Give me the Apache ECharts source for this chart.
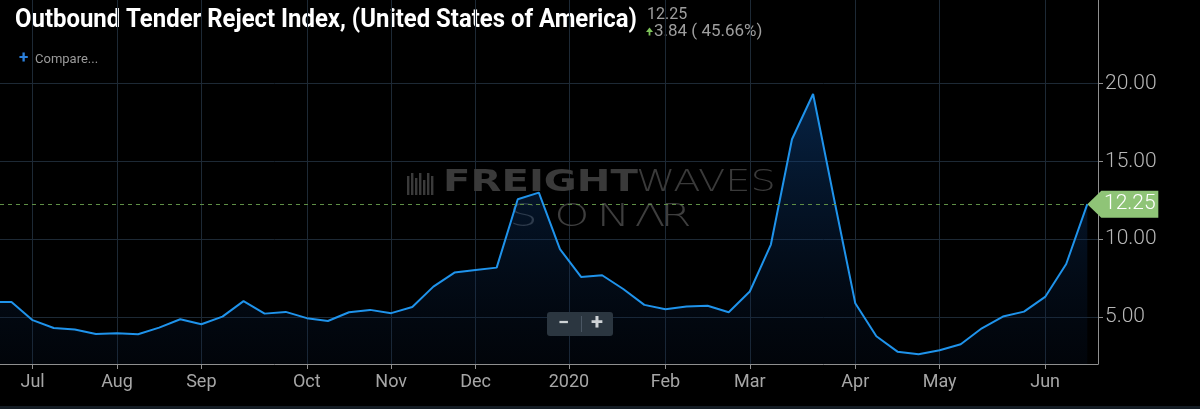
<!DOCTYPE html>
<html><head><meta charset="utf-8">
<script src="https://cdn.jsdelivr.net/npm/echarts@6/dist/echarts.min.js"></script>
<style>html,body{margin:0;padding:0;background:#000;}#c{width:1200px;height:409px;}</style>
</head><body><div id="c"></div>
<script>
const weekDates = [
  '2019-06-23','2019-06-30','2019-07-07','2019-07-14','2019-07-21','2019-07-28',
  '2019-08-04','2019-08-11','2019-08-18','2019-08-25','2019-09-01','2019-09-08',
  '2019-09-15','2019-09-22','2019-09-29','2019-10-06','2019-10-13','2019-10-20',
  '2019-10-27','2019-11-03','2019-11-10','2019-11-17','2019-11-24','2019-12-01',
  '2019-12-08','2019-12-15','2019-12-22','2019-12-29','2020-01-05','2020-01-12',
  '2020-01-19','2020-01-26','2020-02-02','2020-02-09','2020-02-16','2020-02-23',
  '2020-03-01','2020-03-08','2020-03-15','2020-03-22','2020-03-29','2020-04-05',
  '2020-04-12','2020-04-19','2020-04-26','2020-05-03','2020-05-10','2020-05-17',
  '2020-05-24','2020-05-31','2020-06-07','2020-06-14','2020-06-21'
];
const rejectIndex = [
  5.98, 5.98, 4.81, 4.31, 4.21, 3.93,
  3.97, 3.91, 4.33, 4.87, 4.55, 5.04,
  6.03, 5.23, 5.34, 4.94, 4.76, 5.32,
  5.47, 5.26, 5.66, 6.96, 7.86, 8.03,
  8.18, 12.56, 12.99, 9.36, 7.58, 7.69,
  6.81, 5.79, 5.51, 5.68, 5.74, 5.32,
  6.65, 9.66, 16.41, 19.31, 12.55, 5.90,
  3.78, 2.79, 2.63, 2.88, 3.27, 4.29,
  5.04, 5.36, 6.30, 8.41, 12.25
];
const xTickDates = ['2019-07-07','2019-08-04','2019-09-01','2019-10-06','2019-11-03','2019-12-01',
  '2020-01-01','2020-02-02','2020-03-01','2020-04-05','2020-05-03','2020-06-07'];
const xTickLabels = ['Jul','Aug','Sep','Oct','Nov','Dec','2020','Feb','Mar','Apr','May','Jun'];
const yTickValues = [5, 10, 15, 20];
const titleText = 'Outbound Tender Reject Index, (United States of America)';

const DAY = 86400000;
const toTs = d => Date.parse(d + 'T00:00:00Z');
const seriesData = weekDates.map((d, i) => [toTs(d), rejectIndex[i]]);
const xTickTs = xTickDates.map(toTs);
const xMin = toTs('2019-06-23') + 3.185 * DAY;
const xMax = toTs('2020-06-21') + 3.55 * DAY;
const lastValue = rejectIndex[rejectIndex.length - 1];
const prevValue = rejectIndex[rejectIndex.length - 2];
const change = lastValue - prevValue;
const pct = change / prevValue * 100;

// fit the title into the width it takes in the reference (condensed look)
const titleFont = 'bold 25px Roboto';
const mctx = document.createElement('canvas').getContext('2d');
mctx.font = titleFont;
const titleScale = 622 / mctx.measureText(titleText).width;

const wmColor = '#3a3a3a';
const wmGraphics = [];
[[407,176,195],[411,173,195],[415,178,195],[419,173,195],[423,180,195],[427,173,195],[431,176,195]].forEach(b => {
  wmGraphics.push({type:'rect', z: 1, silent: true, shape:{x:b[0], y:b[1], width:2.4, height:b[2]-b[1]}, style:{fill: wmColor}});
});
wmGraphics.push({type:'text', z:1, silent:true, x:443, y:183, scaleX:1.34,
  style:{text:'FREIGHT', font:'bold 30px "DejaVu Sans"', fill: wmColor, verticalAlign:'middle', align:'left'}});
wmGraphics.push({type:'text', z:1, silent:true, x:636, y:183, scaleX:1.33,
  style:{text:'WAVES', font:'200 30px "DejaVu Sans"', fill: wmColor, verticalAlign:'middle', align:'left'}});
[['S',523.5],['O',572],['N',613.5],['Λ',650],['R',676]].forEach(l => {
  wmGraphics.push({type:'text', z:1, silent:true, x:l[1], y:218, scaleX:1.4,
    style:{text:l[0], font:'200 32px "DejaVu Sans"', fill: '#3e3e3e', verticalAlign:'middle', align:'center'}});
});

const chart = echarts.init(document.getElementById('c'), null, {renderer:'canvas'});
chart.setOption({
  backgroundColor: '#000000',
  animation: false,
  grid: {left: 0, right: 102, top: 0, bottom: 45},
  xAxis: {
    type: 'value', min: xMin, max: xMax,
    axisLine: {show: true, onZero: false, lineStyle: {color: '#8f8f8f', width: 1}},
    axisTick: {show: true, length: 5, lineStyle: {color: '#8f8f8f'}, customValues: xTickTs},
    axisLabel: {
      customValues: xTickTs, fontSize: 18, fontFamily: 'Roboto', color: '#a6a6a6', margin: 9,
      formatter: function (v) {
        let best = 0, bd = Infinity;
        xTickTs.forEach((t, i) => { const d = Math.abs(t - v); if (d < bd) { bd = d; best = i; } });
        return xTickLabels[best];
      }
    },
    splitLine: {show: true, lineStyle: {color: '#1d2935', width: 1}}
  },
  yAxis: {
    type: 'value', position: 'right', min: 2, max: 25.34,
    axisLine: {show: true, lineStyle: {color: '#8f8f8f', width: 1}},
    axisTick: {show: true, length: 5, lineStyle: {color: '#8f8f8f'}, customValues: yTickValues},
    axisLabel: {customValues: yTickValues, fontSize: 21, fontFamily: 'Roboto', fontWeight: 300, color: '#b8b8b8', margin: 7,
      formatter: v => v.toFixed(2)},
    splitLine: {show: true, lineStyle: {color: '#1d2935', width: 1}}
  },
  graphic: [
    {type:'text', x:15, y:21, scaleX: titleScale, style:{text: titleText, font: titleFont, fill:'#ffffff', verticalAlign:'middle'}},
    {type:'text', x:647, y:15, style:{text: lastValue.toFixed(2), font:'16px Roboto', fill:'#9e9e9e', verticalAlign:'middle'}},
    {type:'polygon', shape:{points:[[646,32],[649.5,27.5],[653,32]]}, style:{fill:'#7ec35a'}},
    {type:'rect', shape:{x:648.6, y:31.5, width:1.8, height:4}, style:{fill:'#7ec35a'}},
    {type:'text', x:654, y:32, style:{text: change.toFixed(2) + ' ( ' + pct.toFixed(2) + '%)', font:'17px Roboto', fill:'#9e9e9e', verticalAlign:'middle'}},
    {type:'text', x:19, y:58.5, style:{text:'+', font:'bold 17px Roboto', fill:'#2b80dc', verticalAlign:'middle'}},
    {type:'text', x:35, y:60, style:{text:'Compare...', font:'13px Roboto', fill:'#9a9a9a', verticalAlign:'middle'}},
    ...wmGraphics,
    {type:'rect', z: 20, shape:{x:547, y:312, width:66, height:24, r:3}, style:{fill:'#2b3640'}},
    {type:'line', z: 21, shape:{x1:581.5, y1:316, x2:581.5, y2:332}, style:{stroke:'#4a5663', lineWidth:1}},
    {type:'text', z: 21, x:563.5, y:323.5, style:{text:'−', font:'bold 20px Roboto', fill:'#cfd3d6', verticalAlign:'middle', align:'center'}},
    {type:'text', z: 21, x:597, y:323.5, style:{text:'+', font:'bold 22px Roboto', fill:'#cfd3d6', verticalAlign:'middle', align:'center'}},
    {type:'rect', z: 20, shape:{x:0, y:406, width:1200, height:3}, style:{fill:'#141c24'}}
  ],
  series: [{
    type: 'line', z: 3,
    data: seriesData,
    showSymbol: false,
    lineStyle: {color: '#1f93eb', width: 2},
    itemStyle: {color: '#1f93eb'},
    areaStyle: {
      color: new echarts.graphic.LinearGradient(0, 0, 0, 1, [
        {offset: 0, color: 'rgba(14,74,145,0.68)'},
        {offset: 1, color: 'rgba(8,26,56,0.25)'}
      ])
    },
    markLine: {
      silent: true, symbol: 'none',
      lineStyle: {type: [4, 4], color: '#5f8f46', width: 1},
      label: {show: false},
      data: [{yAxis: lastValue}]
    },
    markPoint: {
      silent: true,
      symbol: 'path://M0,13.5 L14,0 L71,0 L71,27 L14,27 Z',
      symbolSize: [71, 27],
      symbolOffset: [35.5, 0],
      itemStyle: {color: '#8fc477'},
      label: {show: true, color: '#ffffff', fontSize: 21, fontFamily: 'Roboto', fontWeight: 300, offset: [7, 0],
        formatter: p => p.value.toFixed(2)},
      data: [{coord: seriesData[seriesData.length - 1], value: lastValue}]
    }
  }]
});
</script></body></html>
